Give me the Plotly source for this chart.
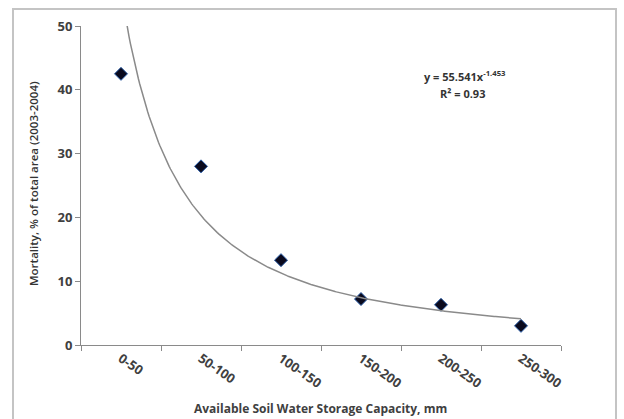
import numpy as np
import plotly.graph_objects as go

categories = ["0-50", "50-100", "100-150", "150-200", "200-250", "250-300"]
mortality = [42.5, 28.0, 13.3, 7.2, 6.3, 3.0]
y_ticks = [0, 10, 20, 30, 40, 50]
trend_coef = 55.541
trend_exp = -1.453
r_squared = 0.93

W, H = 624, 419
L, R, T, B = 81, 63, 26, 74
pw, ph = W - L - R, H - T - B

def px_x(p):
    return (p - L) / pw

def px_y(p):
    return (H - B - p) / ph

font_fam = "Open Sans, Liberation Sans, sans-serif"
txt_col = "#404040"

tx = np.linspace(1, len(categories), 300)
ty = trend_coef * tx ** trend_exp

fig = go.Figure()
fig.add_trace(go.Scatter(
    x=tx, y=ty, mode="lines", xaxis="x2", yaxis="y",
    line=dict(color="#8a8a8a", width=1.5), hoverinfo="skip", showlegend=False,
))
fig.add_trace(go.Scatter(
    x=categories, y=mortality, mode="markers",
    marker=dict(symbol="diamond", size=10, color="#0a0a1e",
                line=dict(color="#2a5da8", width=1)),
    showlegend=False,
))

fig.update_layout(
    width=W, height=H,
    margin=dict(l=L, r=R, t=T, b=B, autoexpand=False),
    paper_bgcolor="white", plot_bgcolor="white",
    font=dict(family=font_fam, color=txt_col, size=12),
    xaxis=dict(
        type="category", range=[-0.5, len(categories) - 0.5],
        tickson="boundaries", ticks="outside", ticklen=5, tickcolor="#8a8a8a",
        showline=True, linecolor="#8a8a8a", linewidth=1,
        showgrid=False, zeroline=False, tickangle=35,
        tickfont=dict(size=13, color=txt_col, family=font_fam, weight="bold"),
        automargin=False,
    ),
    xaxis2=dict(
        overlaying="x", range=[0.5, len(categories) + 0.5], visible=False,
    ),
    yaxis=dict(
        range=[0, 50], tickvals=y_ticks, ticks="outside", ticklen=5,
        tickcolor="#8a8a8a", showline=True, linecolor="#8a8a8a", linewidth=1,
        showgrid=False, zeroline=False,
        tickfont=dict(size=13, color=txt_col, family=font_fam, weight="bold"),
        automargin=False,
    ),
    shapes=[dict(
        type="rect", xref="paper", yref="paper",
        x0=px_x(13), x1=px_x(616), y0=px_y(420), y1=px_y(9),
        line=dict(color="#c4c4c4", width=2), fillcolor="rgba(0,0,0,0)",
        layer="above",
    )],
    annotations=[
        dict(text="Available Soil Water Storage Capacity, mm", xref="paper", yref="paper",
             x=px_x(320), y=px_y(408), showarrow=False, xanchor="center", yanchor="middle",
             font=dict(size=12, color=txt_col, family=font_fam, weight="bold")),
        dict(text="Mortality, % of total area (2003-2004)", xref="paper", yref="paper",
             x=px_x(33), y=px_y(184), showarrow=False, textangle=-90,
             xanchor="center", yanchor="middle",
             font=dict(size=11.5, color="#333333", family=font_fam, weight=600)),
        dict(text=f"y = {trend_coef}x<sup>{trend_exp}</sup>", xref="paper", yref="paper",
             x=px_x(465), y=px_y(76), showarrow=False, xanchor="center", yanchor="middle",
             font=dict(size=11, color="#333333", family=font_fam, weight="bold")),
        dict(text=f"R² = {r_squared}", xref="paper", yref="paper",
             x=px_x(462), y=px_y(93), showarrow=False, xanchor="center", yanchor="middle",
             font=dict(size=11, color="#333333", family=font_fam, weight="bold")),
    ],
)

fig.write_html("out.html", config={"displayModeBar": False},
               post_script="document.body.style.margin='0';")
